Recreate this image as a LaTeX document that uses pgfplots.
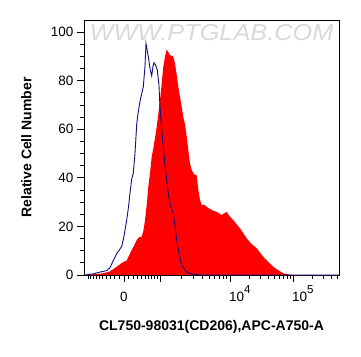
\documentclass[border=0pt]{standalone}
\usepackage{pgfplots}
\pgfplotsset{compat=1.18}
\usepackage{fontspec}
\setmainfont{Liberation Sans}
\usetikzlibrary{calc}
\definecolor{histblue}{RGB}{15,15,125}
\newcommand{\tenpow}[1]{\makebox[0pt][l]{\hspace{-1pt}10\raisebox{8.5pt}{\fontsize{11.5}{11.5}\selectfont #1}}}
\begin{document}
\begin{tikzpicture}
\begin{axis}[
  name=main,
  scale only axis,
  width=255pt, height=255pt,
  xmin=0, xmax=255, ymin=0, ymax=105,
  axis line style={line width=0.9pt},
  tick align=outside,
  xtick pos=bottom, ytick pos=left,
  xtick={40,76,146,209},
  xticklabels={0,,\tenpow{4},\tenpow{5}},
  minor xtick={4,6.6,9.3,12.2,15.5,18.9,22.6,26.6,30.9,35.4,44.6,49.1,53.4,57.4,61.1,64.5,67.8,70.7,73.4,97.1,109.4,118.1,124.9,130.5,135.2,139.2,142.8,165,176.1,183.9,190,195,199.2,202.9,206.1,228,239.1,246.9,253},
  ytick={0,20,...,100},
  minor y tick num=3,
  major tick length=7pt, minor tick length=3.5pt,
  every tick/.style={black, line width=0.8pt},
  /pgf/number format/assume math mode=true,
  ticklabel style={font=\fontsize{13.5}{14}\selectfont},
  xticklabel style={text height=11pt, text depth=0pt, anchor=north, yshift=-5pt},
  xlabel={CL750-98031(CD206),APC-A750-A},
  ylabel={Relative Cell Number},
  x label style={at={(axis description cs:0.5,-0.204)}, anchor=center, font=\fontsize{14}{16}\selectfont\bfseries},
  y label style={at={(axis description cs:-0.226,0.5)}, anchor=center, font=\fontsize{14}{16}\selectfont\bfseries},
  clip=true,
]
\node[font=\fontsize{23}{23}\selectfont\itshape, text=gray!30, xscale=1.1] at (rel axis cs:0.5,0.949) {WWW.PTGLAB.COM};
\addplot[fill=red, draw=none] coordinates {
(0,0) (8,0.2) (14,0.5) (19.3,0.7) (26,1.5) (32.7,3.4) (38,5) (42.7,6) (45,8) (47.7,10.3) (50,12) (52.7,14.4) (55,15.5) (57.7,15.8) (59.3,18) (61,22.6) (63,30) (64.3,36.3) (66,42) (67.7,48.7) (69.3,52) (72.7,61) (76,72) (77.5,78) (79.3,85.7) (81,90) (82.7,92.8) (84,92) (86,90.5) (88.7,90.2) (89.3,89.8) (91,87) (92.5,83) (94.3,77.5) (97,71) (99.3,65) (101,62) (102.7,57) (104.3,51.4) (106,46) (107.7,43.2) (110,41.5) (112.7,41) (114.3,35) (116,31) (117.7,28.8) (120,29) (122.7,28.1) (125,27.4) (129,26.5) (132.7,26) (137.7,24.7) (142.7,26) (145,24.5) (149.3,22.6) (156,19.2) (162.7,15.1) (167,13) (172.7,11) (179.3,7.5) (184,5.5) (189.3,3.4) (194,2) (199.3,0.7) (205,0.2) (209.3,0) (255,0)
} \closedcycle;
\addplot[histblue, line width=0.9pt] coordinates {
(0,0) (5,0.2) (9.3,0.5) (16,1.2) (22.7,1.8) (26,3) (29.3,6) (33,9) (37.7,11.7) (40,16) (42.7,22.6) (44.5,28) (46,33.7) (47.7,39.5) (49.3,42) (51,50) (52.7,62) (54,66.5) (56,71.5) (59.3,77.5) (61,86) (62,95.3) (63,93) (64.3,90) (66,85) (67.7,82) (69,86) (70,87.4) (71.5,86.5) (73.3,84.4) (75,78) (76,69) (77.7,60) (79.3,52.8) (81,45) (82.7,39) (84.5,33) (86,29.6) (87.5,27.5) (89.3,25.5) (91,20) (92.7,14.4) (95,9) (97,5) (99.3,3) (102,1.4) (106,0.7) (110,0.3) (116,0) (255,0)
};
\end{axis}
\pgfresetboundingbox
\path[use as bounding box] ($(main.south west)+(-84pt,-81pt)$) rectangle ($(main.north east)+(22pt,20pt)$);
\end{tikzpicture}
\end{document}
